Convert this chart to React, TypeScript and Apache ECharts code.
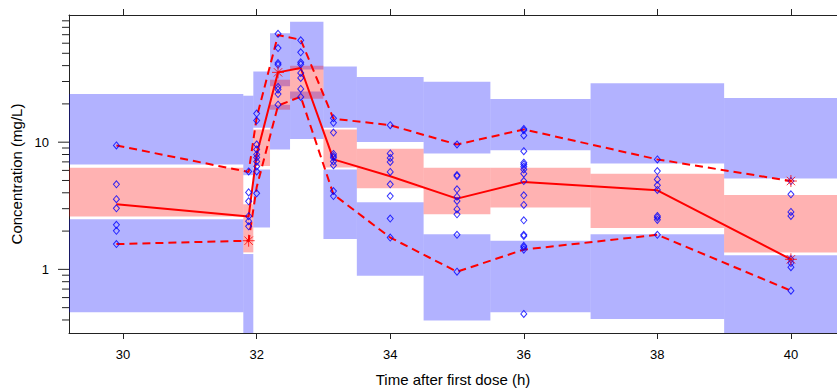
import { useEffect, useRef } from "react";
import * as echarts from "echarts";

// ---- axis settings ----
const xMin = 29.19;
const xMax = 40.69;
const yMin = 0.316;
const yMax = 100;
const xTickValues = [30, 32, 34, 36, 38, 40];
const yMajorTicks = [1, 10];
const yMinorTicks = [0.4, 0.5, 0.6, 0.7, 0.8, 0.9, 2, 3, 4, 5, 6, 7, 8, 9, 20, 30, 40, 50, 60, 70, 80, 90];

// ---- VPC bins (h) ----
const binStart = [29.0, 31.8, 31.95, 32.2, 32.5, 33.0, 33.5, 34.5, 35.5, 37.0, 39.0];
const binEnd = [31.8, 31.95, 32.2, 32.5, 33.0, 33.5, 34.5, 35.5, 37.0, 39.0, 41.0];

// 90% prediction interval of simulated 5th percentile
const lowerLo = [0.46, 0.2, 2.13, 8.77, 10.6, 1.73, 0.891, 0.396, 0.46, 0.408, 0.2];
const lowerHi = [2.48, 1.32, 6.11, 19.7, 25.0, 6.11, 3.37, 1.89, 1.68, 1.89, 1.29];
// 90% PI of simulated median
const medLo = [2.6, 1.36, 6.49, 18.0, 22.0, 6.33, 4.34, 2.71, 3.06, 2.11, 1.36];
const medHi = [6.3, 3.25, 12.6, 31.0, 39.9, 12.6, 8.88, 6.3, 6.3, 5.65, 3.84];
// 90% PI of simulated 95th percentile
const upperLo = [6.69, 5.5, 13.0, 27.5, 37.2, 12.97, 10.04, 8.15, 8.66, 6.81, 5.19];
const upperHi = [23.9, 23.2, 36.0, 72.0, 88.3, 39.4, 32.6, 29.9, 21.9, 29.1, 22.3];

// observed percentiles per bin
const obsBinTime = [29.9, 31.88, 32.0, 32.32, 32.66, 33.15, 34.0, 35.0, 36.0, 38.0, 40.0];
const obsP95 = [9.43, 5.83, 15.6, 69.7, 63.8, 15.3, 13.6, 9.59, 12.6, 7.32, 4.95];
const obsP50 = [3.25, 2.6, 8.0, 35.4, 38.3, 7.32, 5.4, 3.6, 4.86, 4.18, 1.2];
const obsP05 = [1.58, 1.68, 4.42, 19.4, 22.8, 3.88, 1.78, 0.958, 1.43, 1.87, 0.68];

// observed concentrations
const obsTimes = [29.9, 31.88, 32.0, 32.32, 32.66, 33.15, 34.0, 35.0, 36.0, 38.0, 40.0];
const obsConc = [
  [9.43, 4.66, 3.56, 3.02, 2.24, 2.01, 1.58],
  [5.89, 4.03, 3.43, 2.62, 2.39, 2.18],
  [16.8, 14.8, 9.59, 8.77, 8.01, 7.59, 7.06, 6.45, 5.89, 3.96],
  [71.1, 55.0, 41.9, 40.6, 27.2, 25.9, 23.9, 19.7],
  [63.2, 50.9, 42.5, 41.0, 35.0, 32.0, 26.2, 22.7],
  [15.4, 14.2, 11.9, 8.08, 7.77, 7.55, 7.06, 6.6, 4.13, 3.77],
  [13.6, 8.15, 7.52, 7.0, 5.84, 4.66, 3.77, 2.51, 1.78],
  [9.59, 5.51, 5.41, 4.26, 3.73, 3.45, 2.97, 2.71, 1.87, 0.958],
  [12.7, 12.4, 11.3, 8.5, 6.9, 6.69, 6.41, 6.11, 5.65, 4.95, 3.82, 3.21, 2.43, 1.87, 1.83, 1.53, 1.49, 1.43, 0.446],
  [7.32, 5.93, 5.1, 4.58, 4.21, 2.63, 2.56, 2.45, 1.87],
  [4.95, 3.89, 2.83, 2.63, 1.2, 1.12, 1.04, 0.68],
];

const FONT = "'Liberation Sans', Arial, Helvetica, sans-serif";
const AXIS_COLOR = "#222";
const BLUE_FILL = "rgba(0,0,255,0.3)";
const RED_FILL = "rgba(255,0,0,0.3)";
const RED = "#ff0000";
const ASTERISK = "path://M0 6H12M6 0V12M1.8 1.8L10.2 10.2M10.2 1.8L1.8 10.2";

function bandSeries(lo: number[], hi: number[], fill: string, z: number) {
  return {
    type: "custom",
    silent: true,
    z,
    encode: { x: [0, 1], y: [2, 3] },
    data: binStart.map((s, i) => [s, binEnd[i], lo[i], hi[i]]),
    renderItem: (params: any, api: any) => {
      const a = api.coord([api.value(0), api.value(3)]);
      const b = api.coord([api.value(1), api.value(2)]);
      const cs = params.coordSys;
      const shape = echarts.graphic.clipRectByRect(
        { x: a[0], y: a[1], width: b[0] - a[0], height: b[1] - a[1] },
        { x: cs.x, y: cs.y, width: cs.width, height: cs.height }
      );
      if (!shape) return null;
      return { type: "rect", shape, style: { fill } };
    },
  };
}

export default function App() {
  const ref = useRef<HTMLDivElement>(null);

  useEffect(() => {
    if (!ref.current) return;
    const chart = echarts.init(ref.current, null, { renderer: "svg" });

    const points: number[][] = [];
    obsTimes.forEach((t, i) => obsConc[i].forEach((c) => points.push([t, c])));

    const flagged: number[][] = [];
    obsBinTime.forEach((t, i) => {
      if (obsP95[i] < upperLo[i] || obsP95[i] > upperHi[i]) flagged.push([t, obsP95[i]]);
      if (obsP50[i] < medLo[i] || obsP50[i] > medHi[i]) flagged.push([t, obsP50[i]]);
      if (obsP05[i] < lowerLo[i] || obsP05[i] > lowerHi[i]) flagged.push([t, obsP05[i]]);
    });

    const yTickData = [
      ...yMinorTicks.map((v) => [xMin, v, 7]),
      ...yMajorTicks.map((v) => [xMin, v, 11]),
    ];

    const lineOf = (vals: number[], dashed: boolean, z: number) => ({
      type: "line",
      z,
      silent: true,
      symbol: "none",
      data: obsBinTime.map((t, i) => [t, vals[i]]),
      lineStyle: { color: RED, width: 2, type: dashed ? [8, 5] : "solid" },
    });

    const option: any = {
      animation: false,
      backgroundColor: "#fff",
      textStyle: { fontFamily: FONT },
      grid: { left: 69, right: 0, top: 15, bottom: 58, containLabel: false },
      xAxis: [
        {
          type: "value",
          position: "bottom",
          min: xMin,
          max: xMax,
          axisLine: { show: true, lineStyle: { color: AXIS_COLOR, width: 1 } },
          axisTick: { show: true, customValues: xTickValues, length: 6, lineStyle: { color: AXIS_COLOR } },
          axisLabel: {
            customValues: xTickValues,
            fontSize: 13,
            color: "#000",
            margin: 15,
            fontFamily: FONT,
          },
          splitLine: { show: false },
          name: "Time after first dose (h)",
          nameLocation: "middle",
          nameGap: 39,
          nameTextStyle: { fontSize: 15, color: "#000", fontFamily: FONT },
        },
        {
          type: "value",
          position: "top",
          min: xMin,
          max: xMax,
          axisLine: { show: true, lineStyle: { color: AXIS_COLOR, width: 1 } },
          axisTick: { show: true, customValues: xTickValues, length: 6, lineStyle: { color: AXIS_COLOR } },
          axisLabel: { show: false },
          splitLine: { show: false },
        },
      ],
      yAxis: {
        type: "log",
        logBase: 10,
        min: yMin,
        max: yMax,
        axisLine: { show: true, lineStyle: { color: AXIS_COLOR, width: 1 } },
        axisTick: { show: false },
        axisLabel: {
          fontSize: 13,
          color: "#000",
          margin: 20,
          fontFamily: FONT,
          formatter: (v: number) => {
            for (const m of yMajorTicks) if (Math.abs(v - m) < m * 1e-6) return String(m);
            return "";
          },
        },
        splitLine: { show: false },
        name: "Concentration (mg/L)",
        nameLocation: "middle",
        nameGap: 43,
        nameTextStyle: { fontSize: 15, color: "#000", fontFamily: FONT },
      },
      series: [
        bandSeries(lowerLo, lowerHi, BLUE_FILL, 1),
        bandSeries(upperLo, upperHi, BLUE_FILL, 1),
        bandSeries(medLo, medHi, RED_FILL, 2),
        {
          type: "custom",
          silent: true,
          z: 5,
          encode: { x: 0, y: 1 },
          data: yTickData,
          renderItem: (params: any, api: any) => {
            const y = api.coord([xMin, api.value(1)])[1];
            const x0 = params.coordSys.x;
            const len = api.value(2);
            return {
              type: "line",
              shape: { x1: x0 - len, y1: y, x2: x0, y2: y },
              style: { stroke: AXIS_COLOR, lineWidth: 1 },
            };
          },
        },
        lineOf(obsP95, true, 3),
        lineOf(obsP05, true, 3),
        lineOf(obsP50, false, 3),
        {
          type: "scatter",
          z: 4,
          silent: true,
          symbol: "diamond",
          symbolSize: [6, 7],
          data: points,
          itemStyle: { color: "rgba(0,0,0,0)", borderColor: "#0000ff", borderWidth: 1 },
        },
        {
          type: "scatter",
          z: 6,
          silent: true,
          symbol: ASTERISK,
          symbolSize: 12,
          data: flagged,
          itemStyle: { color: "none", borderColor: RED, borderWidth: 1 },
        },
      ],
    };

    chart.setOption(option);
    return () => chart.dispose();
  }, []);

  return (
    <div
      ref={ref}
      style={{ position: "absolute", left: 0, top: 0, width: 837, height: 392 }}
    />
  );
}
